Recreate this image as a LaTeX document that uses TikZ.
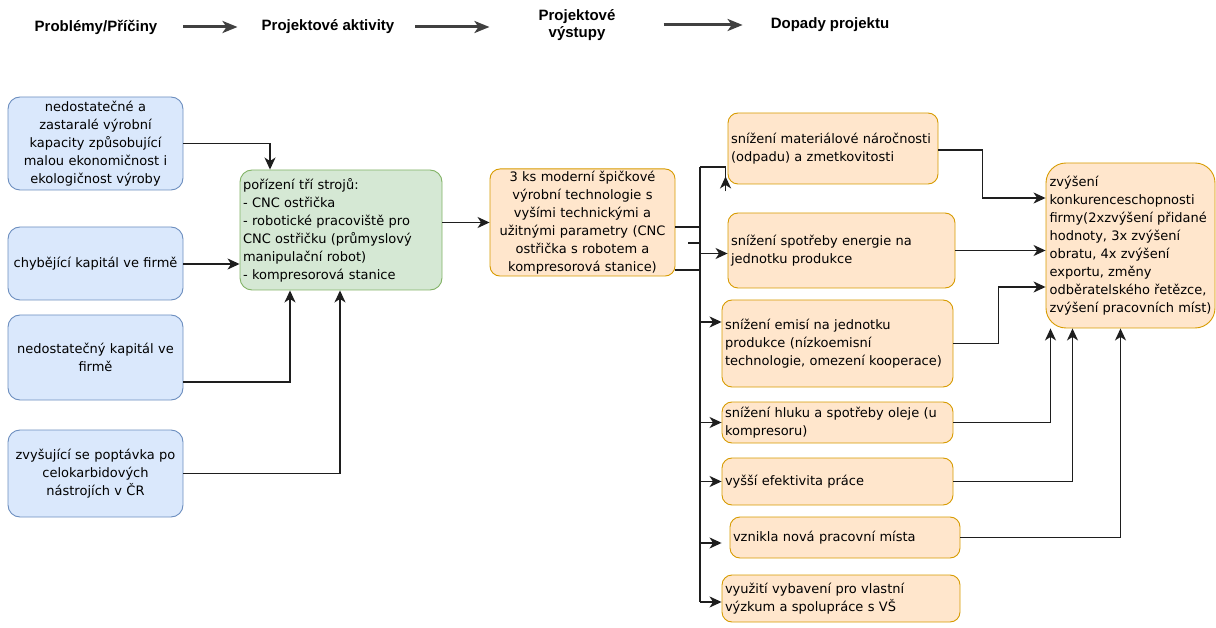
\documentclass[tikz,border=0pt]{standalone}
\usepackage{fontspec}
\setmainfont{DejaVu Sans}
\newfontfamily\headfont{Liberation Sans}
\usepackage{xcolor}
\usepackage{tikz}
\usetikzlibrary{arrows.meta}
\definecolor{modra}{HTML}{DAE8FC}
\definecolor{modraokraj}{HTML}{6C8EBF}
\definecolor{zelena}{HTML}{D5E8D4}
\definecolor{zelenaokraj}{HTML}{82B366}
\definecolor{oranz}{HTML}{FFE6CC}
\definecolor{oranzokraj}{HTML}{D79B00}
\definecolor{cara}{HTML}{1E1E1E}
\tikzstyle{box} = [rectangle,
inner xsep=3pt,
inner ysep=2pt,
line width=0.9pt,
font=\fontsize{13}{18}\selectfont]
\tikzstyle{problem} = [box, rounded corners=12pt, draw=modraokraj, fill=modra, align=center]
\tikzstyle{aktivita} = [box, rounded corners=12pt, draw=zelenaokraj, fill=zelena, align=left]
\tikzstyle{vystup} = [box, rounded corners=10pt, draw=oranzokraj, fill=oranz, align=left]
\tikzstyle{dopad} = [vystup, rounded corners=20pt, inner xsep=1pt]
\tikzstyle{heading} = [inner sep=0pt, align=center, font=\headfont\bfseries\fontsize{15}{17}\selectfont]
\tikzstyle{spoj} = [line width=1.4pt, draw=cara]
\tikzstyle{arrow} = [spoj, -{Stealth[length=12pt,width=11pt,inset=3.5pt]}]
\tikzstyle{headarrow} = [line width=3pt, draw=cara!85, -{Stealth[length=15pt,width=12pt,inset=4pt]}]

\begin{document}
\begin{tikzpicture}[x=1pt,y=-1pt]
\useasboundingbox (0,0) rectangle (1216,628);

% Záhlaví
\node[heading] (h1) at (96,27) {Problémy/Příčiny};
\node[heading] (h2) at (328,27) {Projektové aktivity};
\node[heading] (h3) at (577,25) {Projektové\\výstupy};
\node[heading] (h4) at (830,25) {Dopady projektu};
\draw[headarrow, shorten <=26pt, shorten >=24pt] (h1) -- (h2);
\draw[headarrow, shorten <=21pt, shorten >=49pt] (h2.east) -- (h2.east -| h3.west);
\draw[headarrow, shorten <=48pt, shorten >=28pt] (h3.east) -- (h3.east -| h4.west);

% Problémy / příčiny
\node[problem, text width=169pt, minimum height=93pt] (b1) at (95.5,143.5) {nedostatečné a\\zastaralé výrobní\\kapacity způsobující\\malou ekonomičnost i\\ekologičnost výroby};
\node[problem, text width=169pt, minimum height=73pt] (b2) at (95.5,263.5) {chybějící kapitál ve firmě};
\node[problem, text width=169pt, minimum height=85pt] (b3) at (95.5,357.5) {nedostatečný kapitál ve\\firmě};
\node[problem, text width=169pt, minimum height=87pt] (b4) at (95.5,473.5) {zvyšující se poptávka po\\celokarbidových\\nástrojích v ČR};

% Aktivity
\node[aktivita, text width=196pt, minimum height=120pt] (g) at (341,230) {pořízení tří strojů:\\- CNC ostřička\\- robotické pracoviště pro\\CNC ostřičku (průmyslový\\manipulační robot)\\- kompresorová stanice\\[4pt]};

% Výstupy
\node[vystup, align=center, text width=179pt, minimum height=105pt] (o) at (582.5,222.5) {3 ks moderní špičkové\\výrobní technologie s\\vyšími technickými a\\užitnými parametry (CNC\\ostřička s robotem a\\kompresorová stanice)};

\node[vystup, text width=204pt, minimum height=71pt] (m1) at (833,148.5) {snížení materiálové náročnosti\\(odpadu) a zmetkovitosti};
\node[vystup, text width=221pt, minimum height=75pt] (m2) at (841.5,250.5) {snížení spotřeby energie na\\jednotku produkce};
\node[vystup, text width=225pt, minimum height=87pt] (m3) at (837.5,343.5) {snížení emisí na jednotku\\produkce (nízkoemisní\\technologie, omezení kooperace)};
\node[vystup, text width=225pt, minimum height=41pt] (m4) at (837.5,422.5) {snížení hluku a spotřeby oleje (u\\kompresoru)};
\node[vystup, text width=225pt, minimum height=47pt] (m5) at (837.5,481.5) {vyšší efektivita práce};
\node[vystup, text width=224pt, minimum height=41pt] (m6) at (845,537.5) {vznikla nová pracovní místa};
\node[vystup, text width=232pt, minimum height=47pt] (m7) at (841,598.5) {využití vybavení pro vlastní\\výzkum a spolupráce s VŠ};

% Dopady
\node[dopad, minimum width=169pt, minimum height=165pt] (f) at (1130.5,245.5) {zvýšení\\konkurenceschopnosti\\firmy(2xzvýšení přidané\\hodnoty, 3x zvýšení\\obratu, 4x zvýšení\\exportu, změny\\odběratelského řetězce,\\zvýšení pracovních míst)};

% Šipky do aktivit
\draw[arrow] (b1.east) -| ([xshift=-71pt]g.north);
\draw[arrow] ([yshift=-0.5pt]b2.east) -- ([yshift=-0.5pt]b2.east -| g.west);
\draw[arrow] ([yshift=-24.5pt]b3.east) -| ([xshift=-51pt]g.south);
\draw[arrow] (b4.east) -| ([xshift=-1pt]g.south);
\draw[arrow] (g.east |- o.west) -- (o.west);

% Sběrnice k výstupům
\coordinate (bt) at (700,167);
\coordinate (bb) at (700,602);
\draw[spoj] (bt) -- (bb);
\draw[spoj] ([yshift=-4.5pt]o.east) -- ([yshift=-4.5pt]o.east -| bt);
\draw[spoj] ([xshift=13pt,yshift=-20.5pt]o.east) -- ([yshift=-20.5pt]o.east -| bt);
\draw[spoj] ([yshift=-47.5pt]o.east) -- ([yshift=-47.5pt]o.east -| bt);

\draw[spoj] (bt) -| ([xshift=-2pt,yshift=-7pt]m1.south west);
\draw[arrow] ([xshift=-2pt,yshift=-7pt]m1.south west) -- ([xshift=-2pt,yshift=8pt]m1.south west);
\draw[arrow] ([yshift=-3pt]m2.west -| bt) -- ([yshift=-3pt]m2.west);
\draw[arrow] ([yshift=21.5pt]m3.west -| bt) -- ([yshift=21.5pt]m3.west);
\draw[arrow] (m4.west -| bt) -- (m4.west);
\draw[arrow] (m5.west -| bt) -- (m5.west);
\draw[arrow, shorten >=8pt] ([yshift=-5.5pt]m6.west -| bt) -- ([yshift=-5.5pt]m6.west);
\draw[arrow] (bb) -- (bb -| m7.west);

% Šipky k dopadům
\draw[arrow] ([yshift=-1.5pt]m1.east) -- ++(44,0) |- ([yshift=47.5pt]f.west);
\draw[arrow] (m2.east) -- (m2.east -| f.west);
\draw[arrow] (m3.east) -- ++(45,0) |- ([yshift=-41.5pt]f.west);
\draw[arrow] (m4.east) -| ([xshift=-80pt]f.south);
\draw[arrow] (m5.east) -| ([xshift=-58pt]f.south);
\draw[arrow] (m6.east) -| ([xshift=-10pt]f.south);

\end{tikzpicture}
\end{document}
